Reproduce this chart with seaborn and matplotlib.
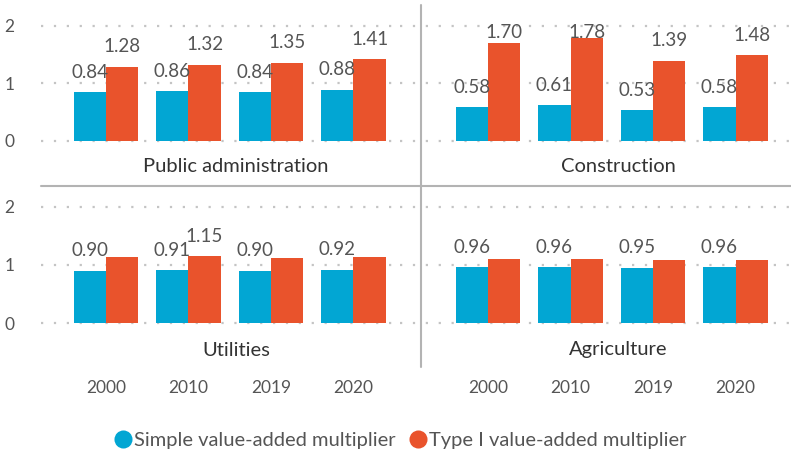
import seaborn as sns
import matplotlib.pyplot as plt
import pandas as pd
from matplotlib.lines import Line2D

# ---- data ----
years = ["2000", "2010", "2019", "2020"]
sectors = ["Public administration", "Construction", "Utilities", "Agriculture"]
series = ["Simple value-added multiplier", "Type I value-added multiplier"]
simple_pa = [0.84, 0.86, 0.84, 0.88]
type1_pa = [1.28, 1.32, 1.35, 1.41]
simple_con = [0.58, 0.61, 0.53, 0.58]
type1_con = [1.70, 1.78, 1.39, 1.48]
simple_util = [0.90, 0.91, 0.90, 0.92]
type1_util = [1.14, 1.15, 1.12, 1.14]
simple_agr = [0.96, 0.96, 0.95, 0.96]
type1_agr = [1.10, 1.10, 1.08, 1.08]
# labels hidden in the original (overlapping): (sector, series index, year)
hidden_labels = [("Utilities", 1, "2000"), ("Utilities", 1, "2019"), ("Utilities", 1, "2020"),
                 ("Agriculture", 1, "2000"), ("Agriculture", 1, "2010"),
                 ("Agriculture", 1, "2019"), ("Agriculture", 1, "2020")]

values = {
    "Public administration": (simple_pa, type1_pa),
    "Construction": (simple_con, type1_con),
    "Utilities": (simple_util, type1_util),
    "Agriculture": (simple_agr, type1_agr),
}

BLUE = "#02A6D3"
RED = "#E9532C"
TXT = "#555555"
palette = {series[0]: BLUE, series[1]: RED}

sns.set_style("white")
plt.rcParams["font.family"] = ["Lato", "DejaVu Sans"]

W, H = 791, 453
fig = plt.figure(figsize=(W / 100, H / 100), dpi=100)


def fx(x):
    return x / W


def fy(y):
    return 1 - y / H


# panel geometry in pixels: (left, right, top, bottom, x-center-of-cat0, px/cat, y0 pixel, px/unit)
panels = {
    "Public administration": (41, 392, 5, 150, 106, 82.5, 140.5, 57.5),
    "Construction": (400, 790, 5, 150, 488, 82.5, 140.5, 57.5),
    "Utilities": (41, 392, 190, 333, 106, 82.5, 323, 58),
    "Agriculture": (400, 790, 190, 333, 488, 82.5, 323, 58),
}
title_pos = {
    "Public administration": (236, 167),
    "Construction": (618, 167),
    "Utilities": (236, 350),
    "Agriculture": (618, 350),
}

for sector in sectors:
    l, r, t, b, c0, pxc, y0, pxu = panels[sector]
    ax = fig.add_axes([fx(l), fy(b), (r - l) / W, (b - t) / H])
    s_vals, t_vals = values[sector]
    df = pd.DataFrame({
        "year": years * 2,
        "value": list(s_vals) + list(t_vals),
        "series": [series[0]] * 4 + [series[1]] * 4,
    })
    sns.barplot(data=df, x="year", y="value", hue="series", order=years,
                hue_order=series, palette=palette, width=0.78, saturation=1,
                ax=ax, legend=False, edgecolor="none", linewidth=0)
    ax.set_xlim((l - c0) / pxc, (r - c0) / pxc)
    ax.set_ylim(-(b - y0) / pxu, (y0 - t) / pxu)
    ax.set_yticks([0, 1, 2])
    ax.yaxis.grid(True, color="#c4c4c4", linestyle=(0, (1, 4.8)), linewidth=1.6)
    ax.set_axisbelow(True)
    for sp in ax.spines.values():
        sp.set_visible(False)
    ax.set_xlabel("")
    ax.set_ylabel("")
    left_col = sector in ("Public administration", "Utilities")
    bottom_row = sector in ("Utilities", "Agriculture")
    if left_col:
        ax.set_yticklabels(["0", "1", "2"])
        ax.tick_params(axis="y", length=0, pad=19, labelsize=12.5, labelcolor=TXT)
    else:
        ax.set_yticklabels([])
        ax.tick_params(axis="y", length=0)
    if bottom_row:
        ax.tick_params(axis="x", length=0, pad=34, labelsize=12.5, labelcolor=TXT)
    else:
        ax.set_xticklabels([])
        ax.tick_params(axis="x", length=0)

    off = 20 / pxu
    cap = (y0 - 33) / pxu
    for si, vals in enumerate((s_vals, t_vals)):
        for i, v in enumerate(vals):
            if (sector, si, years[i]) in hidden_labels:
                continue
            xpos = i + (-0.195 if si == 0 else 0.195)
            ax.text(xpos, min(v + off, cap), f"{v:.2f}", ha="center", va="center",
                    fontsize=13.5, color=TXT)

    tx, ty = title_pos[sector]
    fig.text(fx(tx), fy(ty), sector, ha="center", va="center", fontsize=14.5,
             color="#333333")

# dividers
fig.add_artist(Line2D([fx(421), fx(421)], [fy(5), fy(367)], transform=fig.transFigure,
                      color="#b3b3b3", linewidth=1.5))
fig.add_artist(Line2D([fx(41), fx(791)], [fy(186), fy(186)], transform=fig.transFigure,
                      color="#b3b3b3", linewidth=1.5))

# legend
handles = [Line2D([0], [0], marker="o", linestyle="none", markersize=13,
                  markerfacecolor=palette[s], markeredgecolor="none") for s in series]
leg = fig.legend(handles, series, loc="center", bbox_to_anchor=(fx(400), fy(440)), ncol=2,
                 frameon=False, fontsize=14.5, labelcolor=TXT, handletextpad=0.05,
                 columnspacing=0.6, handlelength=1.0)

fig.savefig("out.png", dpi=100)
